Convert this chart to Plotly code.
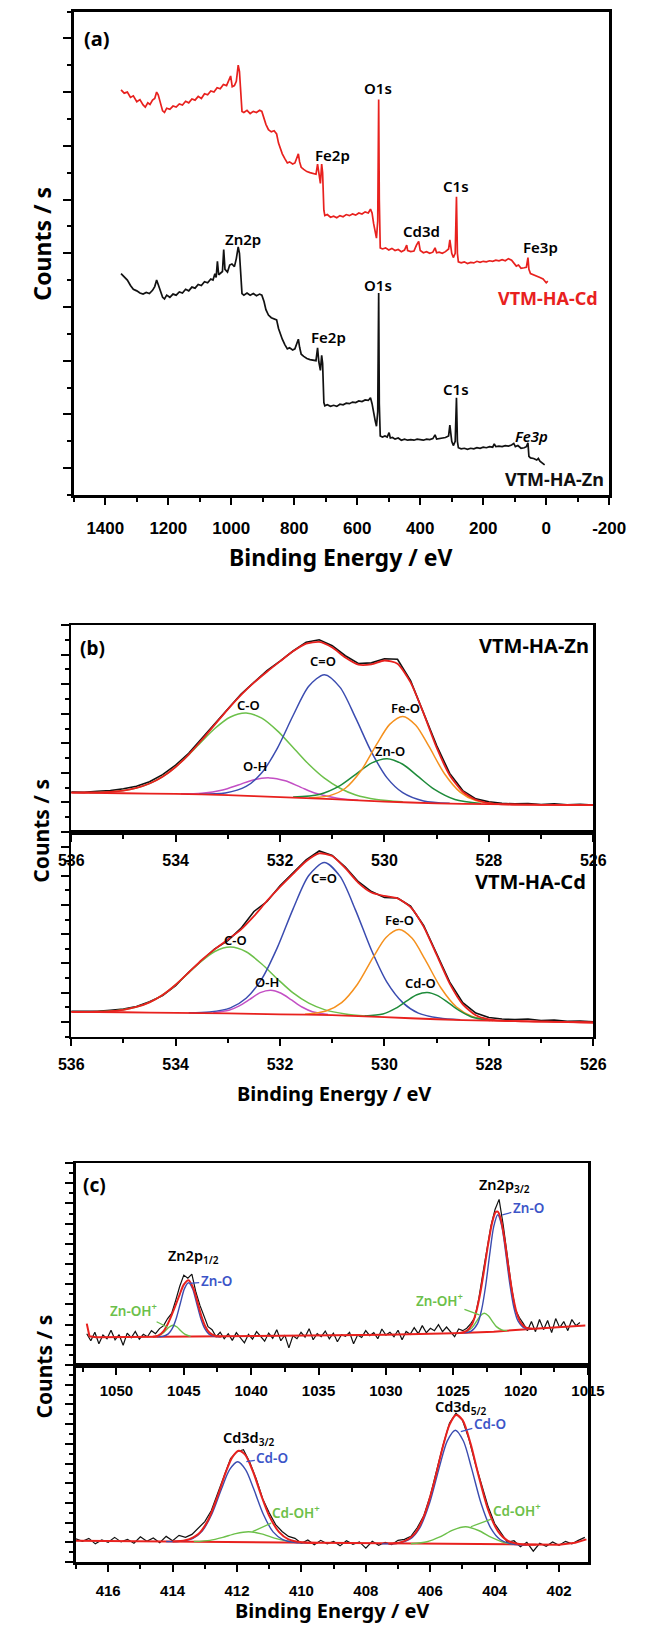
import plotly.graph_objects as go

# ======================= DATA =======================
# (a) survey spectra: (binding energy eV, counts a.u.)
cd_survey = [(1350,7.04),(1340,6.98),(1330,7.00),(1320,6.90),(1311,6.93),(1300,6.82),(1290,6.86),(1280,6.76),(1273,6.72),(1265,6.80),(1258,6.77),(1250,6.85),(1243,6.88),(1237,7.00),(1232,6.95),(1225,6.80),(1218,6.65),(1212,6.62),(1205,6.70),(1195,6.68),(1185,6.74),(1175,6.72),(1165,6.78),(1155,6.76),(1145,6.83),(1135,6.80),(1125,6.87),(1115,6.85),(1105,6.92),(1095,6.88),(1085,6.97),(1075,6.95),(1065,7.02),(1055,7.00),(1045,7.08),(1035,7.06),(1025,7.14),(1015,7.12),(1008,7.22),(1002,7.30),(997,7.10),(990,7.12),(984,7.20),(978,7.50),(974,7.38),(970,7.00),(966,6.64),(960,6.62),(950,6.66),(940,6.60),(930,6.64),(920,6.62),(910,6.66),(903,6.64),(896,6.50),(890,6.40),(882,6.30),(873,6.26),(864,6.28),(856,6.22),(850,6.05),(845,5.95),(838,5.85),(830,5.76),(822,5.68),(815,5.70),(805,5.66),(798,5.68),(791,5.80),(787,5.85),(783,5.70),(778,5.60),(770,5.56),(760,5.52),(750,5.50),(740,5.48),(731,5.47),(726,5.66),(722,5.45),(717,5.30),(713,5.66),(710,5.50),(706,4.80),(703,4.70),(695,4.72),(685,4.67),(675,4.69),(665,4.66),(655,4.70),(645,4.68),(635,4.72),(625,4.70),(615,4.73),(605,4.71),(595,4.75),(585,4.73),(575,4.77),(565,4.75),(558,4.82),(553,4.75),(548,4.55),(543,4.35),(539,4.28),(535,4.60),(532,6.86),(530,5.00),(527,4.10),(520,4.08),(510,4.10),(500,4.06),(490,4.09),(480,4.05),(470,4.07),(460,4.03),(450,4.06),(443,4.15),(440,4.05),(430,4.03),(420,4.04),(412,4.15),(405,4.22),(400,4.05),(390,4.01),(380,4.03),(370,4.00),(360,4.02),(353,4.10),(348,4.01),(340,4.02),(330,4.00),(320,4.03),(310,4.08),(306,4.25),(300,4.00),(295,3.92),(289,4.00),(285,5.05),(282,4.00),(279,3.84),(270,3.82),(260,3.84),(250,3.81),(240,3.83),(230,3.82),(220,3.85),(210,3.83),(200,3.85),(190,3.84),(180,3.86),(170,3.85),(160,3.87),(150,3.86),(140,3.88),(130,3.86),(120,3.90),(110,3.87),(103,3.82),(95,3.76),(88,3.78),(80,3.72),(70,3.73),(63,3.74),(58,3.92),(55,3.70),(50,3.62),(40,3.60),(30,3.58),(20,3.55),(10,3.52),(0,3.45),(-5,3.48)]

zn_survey = [(1350,3.62),(1340,3.55),(1330,3.50),(1320,3.40),(1311,3.33),(1300,3.30),(1290,3.26),(1280,3.24),(1270,3.27),(1260,3.25),(1250,3.31),(1243,3.38),(1237,3.50),(1232,3.42),(1225,3.28),(1218,3.18),(1212,3.15),(1205,3.22),(1195,3.18),(1185,3.24),(1175,3.22),(1165,3.28),(1155,3.26),(1145,3.33),(1135,3.30),(1125,3.37),(1115,3.35),(1105,3.42),(1095,3.40),(1085,3.47),(1075,3.45),(1065,3.52),(1058,3.50),(1052,3.62),(1048,3.55),(1044,3.85),(1040,3.60),(1035,3.62),(1028,3.66),(1024,4.07),(1020,3.70),(1012,3.65),(1005,3.78),(998,3.80),(990,3.75),(984,3.90),(978,4.12),(974,4.00),(970,3.60),(966,3.25),(960,3.22),(950,3.26),(940,3.22),(930,3.25),(920,3.21),(910,3.24),(903,3.22),(896,3.10),(890,2.95),(882,2.85),(873,2.80),(864,2.78),(856,2.76),(850,2.60),(845,2.50),(838,2.40),(830,2.30),(822,2.22),(815,2.24),(805,2.20),(798,2.22),(791,2.34),(787,2.40),(783,2.25),(778,2.12),(770,2.08),(760,2.04),(750,2.02),(740,2.01),(731,2.00),(726,2.24),(722,1.98),(717,1.82),(713,2.10),(710,1.95),(706,1.22),(703,1.16),(695,1.18),(685,1.15),(675,1.17),(665,1.15),(655,1.19),(645,1.18),(635,1.21),(625,1.20),(615,1.23),(605,1.22),(595,1.25),(585,1.24),(575,1.27),(565,1.26),(558,1.31),(553,1.20),(548,1.00),(543,0.88),(539,0.78),(535,1.05),(532,3.26),(530,1.20),(527,0.60),(520,0.58),(512,0.60),(505,0.58),(499,0.66),(495,0.56),(488,0.57),(480,0.54),(470,0.56),(460,0.52),(450,0.54),(440,0.52),(430,0.53),(420,0.52),(410,0.54),(400,0.53),(390,0.52),(380,0.54),(370,0.53),(360,0.55),(353,0.62),(348,0.54),(340,0.55),(330,0.55),(320,0.57),(310,0.60),(306,0.80),(300,0.50),(295,0.42),(289,0.50),(285,1.31),(282,0.50),(279,0.38),(270,0.36),(260,0.37),(250,0.35),(240,0.37),(230,0.36),(220,0.38),(210,0.37),(200,0.39),(190,0.38),(180,0.40),(170,0.39),(165,0.45),(160,0.40),(150,0.41),(140,0.40),(130,0.42),(120,0.41),(110,0.43),(103,0.46),(98,0.40),(90,0.42),(80,0.37),(70,0.38),(63,0.40),(58,0.47),(55,0.22),(50,0.19),(40,0.18),(30,0.15),(25,0.18),(20,0.13),(10,0.08),(5,0.06)]

survey_tickvals = [1400, 1200, 1000, 800, 600, 400, 200, 0, -200]
survey_ticktext = ["1400", "1200", "1000", "800", "600", "400", "200", "0", "-200"]

# (b) O1s spectra, evenly sampled from 536 eV in -0.25 eV steps
o1s_start, o1s_step = 536.0, -0.25
o1s_zn_raw = [1.35,1.34,1.38,1.40,1.46,1.55,1.70,1.94,2.26,2.66,3.16,3.66,4.18,4.66,5.06,5.46,5.78,6.12,6.42,6.50,6.30,5.96,5.70,5.72,5.86,5.84,5.12,4.05,2.92,1.98,1.40,1.12,1.02,0.97,0.95,0.96,0.93,0.95,0.92,0.94,0.91]
o1s_zn_fit = [1.33,1.335,1.34,1.36,1.40,1.49,1.64,1.87,2.20,2.62,3.11,3.63,4.15,4.63,5.05,5.42,5.77,6.11,6.37,6.43,6.24,5.90,5.66,5.67,5.80,5.69,5.06,4.01,2.85,1.92,1.36,1.09,0.98,0.935,0.93,0.925,0.92,0.917,0.915,0.912,0.91]
o1s_cd_raw = [0.36,0.37,0.36,0.40,0.44,0.53,0.69,0.90,1.24,1.70,2.10,2.50,2.78,3.20,3.78,4.12,4.66,5.12,5.55,5.85,5.70,5.30,4.80,4.46,4.26,4.24,3.96,3.30,2.33,1.36,0.66,0.30,0.15,0.10,0.08,0.10,0.05,0.06,0.02,0.03,0.00]
o1s_cd_fit = [0.34,0.34,0.35,0.37,0.415,0.51,0.67,0.92,1.27,1.69,2.12,2.49,2.82,3.16,3.62,4.14,4.62,5.07,5.50,5.77,5.68,5.26,4.76,4.43,4.31,4.23,3.93,3.26,2.29,1.31,0.60,0.23,0.085,0.04,0.025,0.018,0.01,0.003,-0.005,-0.013,-0.02]

zn_o1s_bg = [(536,1.33),(535,1.31),(534,1.29),(533,1.25),(532,1.18),(531,1.11),(530,1.03),(529,0.97),(528,0.94),(527,0.92),(526,0.91)]
zn_o1s_CO = [(535.65,1.33),(535.15,1.37),(534.75,1.49),(534.45,1.68),(534.15,1.99),(533.85,2.44),(533.55,2.97),(533.25,3.50),(532.95,3.89),(532.65,4.02),(532.35,3.85),(532.05,3.42),(531.75,2.86),(531.45,2.29),(531.15,1.82),(530.85,1.48),(530.55,1.25),(530.15,1.10),(529.65,1.02)]
zn_o1s_OH = [(533.9,1.29),(533.5,1.31),(533.1,1.42),(532.8,1.59),(532.5,1.77),(532.2,1.83),(531.9,1.73),(531.6,1.51),(531.3,1.30),(530.9,1.14),(530.5,1.075)]
zn_o1s_CdO = [(533.55,1.28),(533.05,1.32),(532.65,1.54),(532.35,2.00),(532.05,2.84),(531.75,3.94),(531.45,4.93),(531.15,5.32),(530.85,4.89),(530.55,3.85),(530.25,2.71),(529.95,1.83),(529.65,1.33),(529.25,1.05),(528.75,0.97)]
zn_o1s_ZnO = [(531.75,1.18),(531.25,1.27),(530.85,1.57),(530.55,1.95),(530.25,2.33),(529.95,2.48),(529.65,2.29),(529.35,1.87),(529.05,1.45),(528.65,1.10),(528.15,0.96)]
zn_o1s_FeO = [(531.45,1.15),(531.05,1.23),(530.75,1.48),(530.45,2.07),(530.15,2.96),(529.9,3.64),(529.65,3.91),(529.4,3.61),(529.15,2.90),(528.85,1.97),(528.55,1.35),(528.25,1.06),(527.85,0.95)]

cd_o1s_bg = [(536,0.34),(535,0.33),(534,0.31),(533,0.29),(532,0.26),(531,0.23),(530,0.16),(529,0.09),(528,0.04),(527,0.01),(526,-0.02)]
cd_o1s_CO = [(535.55,0.35),(535.15,0.38),(534.75,0.51),(534.45,0.71),(534.15,1.05),(533.85,1.51),(533.55,2.01),(533.25,2.41),(532.95,2.56),(532.65,2.40),(532.35,1.98),(532.05,1.47),(531.75,0.99),(531.45,0.64),(531.15,0.42),(530.75,0.27),(530.35,0.20)]
cd_o1s_OH = [(533.28,0.32),(532.98,0.40),(532.78,0.55),(532.58,0.77),(532.38,1.00),(532.18,1.085),(531.98,0.98),(531.78,0.75),(531.58,0.51),(531.38,0.35),(531.08,0.25)]
cd_o1s_CdO_dbl = [(533.75,0.31),(533.35,0.335),(532.95,0.48),(532.65,0.81),(532.35,1.47),(532.05,2.55),(531.75,3.87),(531.45,5.01),(531.15,5.455),(530.85,4.98),(530.55,3.81),(530.25,2.46),(529.95,1.35),(529.65,0.66),(529.35,0.30),(528.95,0.13),(528.55,0.07)]
cd_o1s_FeO = [(531.52,0.26),(531.12,0.37),(530.82,0.66),(530.52,1.28),(530.22,2.20),(529.97,2.89),(529.72,3.16),(529.47,2.86),(529.22,2.13),(528.92,1.17),(528.62,0.51),(528.32,0.19),(527.92,0.05)]
cd_o1s_CdO = [(530.38,0.20),(530.03,0.27),(529.78,0.47),(529.58,0.71),(529.38,0.93),(529.18,1.01),(528.98,0.90),(528.78,0.66),(528.58,0.40),(528.33,0.17),(527.98,0.05)]

# (c) Zn2p spectrum, evenly sampled from 1052.2 eV in -0.3 eV steps
zn2p_start, zn2p_step = 1052.2, -0.3
zn2p_raw = [1.55,1.20,1.62,1.05,1.48,1.30,1.72,1.25,1.50,0.98,
            1.58,1.35,1.66,1.28,1.52,1.40,1.70,1.55,1.80,1.95,
            2.30,2.55,3.20,3.90,4.45,4.30,4.50,3.60,2.95,2.40,
            1.90,1.75,1.40,1.62,1.30,1.55,1.22,1.60,1.35,1.10,
            1.52,1.28,1.65,1.40,1.18,1.58,1.32,1.75,1.20,1.48,
            0.85,1.45,1.30,1.62,1.38,1.80,1.25,1.55,1.40,1.68,
            1.30,1.58,1.15,1.50,1.42,1.62,1.05,1.48,1.36,1.70,
            1.45,1.60,1.30,1.78,1.48,1.62,1.40,1.72,1.25,1.66,
            1.52,1.85,1.55,1.95,1.60,1.82,1.70,2.00,1.65,1.88,
            1.62,1.40,1.78,1.70,1.82,2.05,2.35,3.30,4.55,5.70,
            6.90,7.70,8.20,6.95,5.40,3.95,2.75,2.35,2.05,1.70,
            2.15,1.65,2.25,1.75,2.20,1.60,2.30,1.85,2.15,1.70,
            2.25,1.95,2.10]
zn2p_bg = [(1052.2,2.05),(1052.0,1.42),(1051.5,1.37),(1045,1.40),(1040,1.42),(1030,1.50),(1025,1.57),(1022,1.65),(1019,1.80),(1015.2,1.95)]
zn2p_fit = [(1047.3,1.40),(1046.9,1.45),(1046.5,1.68),(1046.2,2.02),(1045.9,2.47),(1045.6,2.97),(1045.3,3.50),(1045.0,3.98),(1044.65,4.20),(1044.3,3.82),(1044.0,3.15),(1043.7,2.44),(1043.4,1.91),(1043.1,1.61),(1042.7,1.45),(1042.2,1.40),
            (None,None),
            (1024.5,1.59),(1024.0,1.69),(1023.6,2.03),(1023.3,2.62),(1023.0,3.55),(1022.7,4.75),(1022.4,6.03),(1022.1,7.09),(1021.85,7.57),(1021.7,7.59),(1021.5,7.29),(1021.2,6.23),(1020.9,4.81),(1020.6,3.51),(1020.3,2.60),(1020.0,2.10),(1019.6,1.85),(1019.1,1.80)]
zn2p_ZnO = [(1047.0,1.39),(1046.55,1.42),(1046.15,1.54),(1045.85,1.81),(1045.55,2.33),(1045.25,3.07),(1044.95,3.78),(1044.65,4.07),(1044.35,3.78),(1044.05,3.07),(1043.75,2.33),(1043.45,1.81),(1043.15,1.54),(1042.75,1.42),(1042.3,1.40),
            (None,None),
            (1024.2,1.59),(1023.7,1.66),(1023.2,2.05),(1022.9,2.73),(1022.6,3.91),(1022.3,5.46),(1022.0,6.85),(1021.7,7.44),(1021.4,6.88),(1021.1,5.51),(1020.8,3.99),(1020.5,2.83),(1020.2,2.18),(1019.7,1.82),(1019.2,1.79)]
zn2p_ZnOH = [(1047.1,1.41),(1046.7,1.51),(1046.4,1.67),(1046.1,1.87),(1045.8,1.97),(1045.5,1.88),(1045.2,1.68),(1044.9,1.52),(1044.5,1.42),
             (None,None),
             (1024.0,1.65),(1023.6,1.85),(1023.3,2.13),(1023.0,2.43),(1022.7,2.56),(1022.4,2.44),(1022.1,2.16),(1021.8,1.90),(1021.4,1.74),(1021.0,1.70)]

# (c) Cd3d spectrum, evenly sampled from 417.0 eV in -0.2 eV steps
cd3d_start, cd3d_step = 417.0, -0.2
cd3d_raw = [1.18,1.05,1.20,0.92,1.12,1.00,1.25,1.02,1.15,0.95,
            1.28,1.05,1.22,0.98,1.30,1.08,1.35,1.25,1.40,1.70,
            2.05,2.60,3.50,4.45,5.25,5.60,5.70,5.05,4.20,3.20,
            2.50,1.90,1.55,1.30,1.20,0.95,1.12,0.88,1.10,0.92,
            1.05,0.82,1.08,0.90,1.02,0.70,1.05,0.85,1.00,0.88,
            1.10,1.15,1.30,1.75,2.35,3.35,4.65,5.95,7.05,7.55,
            7.20,6.25,5.00,3.85,2.80,1.95,1.45,1.00,1.08,0.78,
            1.00,0.55,0.95,0.80,1.02,0.85,1.05,0.92,1.10,1.25]
cd3d_bg = [(417.0,1.08),(413.4,1.03),(410,0.97),(406.5,0.91),(403,0.86),(402,0.88),(401.5,0.98),(401.15,1.15)]
cd3d_fit = [(414.0,1.04),(413.6,1.10),(413.2,1.42),(412.9,2.12),(412.6,3.35),(412.35,4.55),(412.15,5.31),(411.95,5.65),(411.75,5.45),(411.5,4.57),(411.25,3.39),(411.0,2.34),(410.7,1.53),(410.4,1.15),(410.0,1.00),(409.5,0.97),
            (None,None),
            (407.3,0.93),(406.9,1.00),(406.5,1.40),(406.2,2.30),(405.9,3.91),(405.6,5.90),(405.4,6.97),(405.2,7.46),(405.0,7.21),(404.75,6.03),(404.5,4.39),(404.2,2.64),(403.9,1.57),(403.6,1.09),(403.2,0.90),(402.7,0.87)]
cd3d_CdO = [(414.2,1.04),(413.78,1.05),(413.38,1.19),(413.08,1.57),(412.78,2.44),(412.48,3.72),(412.23,4.69),(411.98,5.09),(411.73,4.68),(411.48,3.70),(411.18,2.41),(410.88,1.53),(410.58,1.14),(410.18,0.99),(409.8,0.97),
            (None,None),
            (407.5,0.92),(407.02,0.95),(406.62,1.17),(406.32,1.75),(406.02,2.99),(405.72,4.79),(405.47,6.15),(405.22,6.69),(404.97,6.14),(404.72,4.78),(404.42,2.97),(404.12,1.72),(403.82,1.13),(403.42,0.90),(403.0,0.86)]
cd3d_CdOH = [(413.34,1.04),(412.84,1.10),(412.44,1.25),(412.04,1.44),(411.64,1.535),(411.24,1.43),(410.84,1.21),(410.44,1.06),(409.94,0.98),
             (None,None),
             (406.6,0.93),(406.1,1.03),(405.7,1.27),(405.3,1.62),(404.9,1.79),(404.5,1.60),(404.1,1.25),(403.7,0.99),(403.2,0.88)]

# ======================= STYLE =======================
RED = "#e8211e"; BLK = "#111111"; BLUE = "#3b4cb0"; GREEN = "#6cc04a"
DKGREEN = "#1e8b3a"; ORANGE = "#f5911e"; MAGENTA = "#c34fc4"; LBLUE = "#3c55c8"
TFONT = "Noto Sans, Open Sans, sans-serif"
NFONT = "Arial, Liberation Sans, sans-serif"

W, H = 658, 1628
def px_x(a, b): return [a / W, b / W]
def px_y(top, bot): return [1 - bot / H, 1 - top / H]

fig = go.Figure()

def xs(pairs): return [p[0] for p in pairs]
def ys(pairs): return [p[1] for p in pairs]

def line(pairs, xa, ya, color, width, shape="spline"):
    fig.add_trace(go.Scatter(x=xs(pairs), y=ys(pairs), xaxis=xa, yaxis=ya, mode="lines",
                             line=dict(color=color, width=width, shape=shape, smoothing=0.8),
                             connectgaps=False, showlegend=False, hoverinfo="skip"))

def even(yv, x0, dx, xa, ya, color, width, shape="linear"):
    fig.add_trace(go.Scatter(y=yv, x0=x0, dx=dx, xaxis=xa, yaxis=ya, mode="lines",
                             line=dict(color=color, width=width, shape=shape, smoothing=0.6),
                             showlegend=False, hoverinfo="skip"))

# (a)
line(cd_survey, "x", "y", RED, 1.7, "linear")
line(zn_survey, "x", "y", BLK, 1.7, "linear")

# (b) top - Zn
even(o1s_zn_raw, o1s_start, o1s_step, "x2", "y2", BLK, 1.6)
line(zn_o1s_CO, "x2", "y2", GREEN, 1.5)
line(zn_o1s_OH, "x2", "y2", MAGENTA, 1.5)
line(zn_o1s_CdO, "x2", "y2", BLUE, 1.5)
line(zn_o1s_ZnO, "x2", "y2", DKGREEN, 1.5)
line(zn_o1s_FeO, "x2", "y2", ORANGE, 1.5)
line(zn_o1s_bg, "x2", "y2", RED, 1.8)
even(o1s_zn_fit, o1s_start, o1s_step, "x2", "y2", RED, 1.8, "spline")
# (b) bottom - Cd
even(o1s_cd_raw, o1s_start, o1s_step, "x3", "y3", BLK, 1.6)
line(cd_o1s_CO, "x3", "y3", GREEN, 1.5)
line(cd_o1s_OH, "x3", "y3", MAGENTA, 1.5)
line(cd_o1s_CdO_dbl, "x3", "y3", BLUE, 1.5)
line(cd_o1s_FeO, "x3", "y3", ORANGE, 1.5)
line(cd_o1s_CdO, "x3", "y3", DKGREEN, 1.5)
line(cd_o1s_bg, "x3", "y3", RED, 1.8)
even(o1s_cd_fit, o1s_start, o1s_step, "x3", "y3", RED, 1.8, "spline")

# (c) top - Zn2p
even(zn2p_raw, zn2p_start, zn2p_step, "x4", "y4", BLK, 1.2)
line(zn2p_bg, "x4", "y4", RED, 2.0, "linear")
line(zn2p_ZnOH, "x4", "y4", GREEN, 1.4)
line(zn2p_ZnO, "x4", "y4", BLUE, 1.4)
line(zn2p_fit, "x4", "y4", RED, 2.0)
# (c) bottom - Cd3d
even(cd3d_raw, cd3d_start, cd3d_step, "x5", "y5", BLK, 1.2)
line(cd3d_bg, "x5", "y5", RED, 2.0, "linear")
line(cd3d_CdOH, "x5", "y5", GREEN, 1.4)
line(cd3d_CdO, "x5", "y5", BLUE, 1.4)
line(cd3d_fit, "x5", "y5", RED, 2.0)

# ======================= AXES =======================
def xaxis(domain, rng, anchor, size, dtick=None, minor=None, standoff=6, **kw):
    d = dict(domain=domain, range=rng, anchor=anchor, showline=True, linecolor="black", linewidth=2.5,
             mirror=True, ticks="outside", ticklen=7, tickwidth=2, tickcolor="black",
             showgrid=False, zeroline=False, ticklabelstandoff=standoff,
             tickfont=dict(family=NFONT, size=size, color="black", weight="bold"))
    if dtick is not None:
        d.update(dtick=dtick, tick0=0)
    if minor is not None:
        d["minor"] = dict(tickmode="linear", tick0=0, dtick=minor, ticks="outside", ticklen=4,
                          tickwidth=2, tickcolor="black", showgrid=False)
    d.update(kw)
    return d

def yaxis(domain, rng, anchor, dtick, minor):
    return dict(domain=domain, range=rng, anchor=anchor, showline=True, linecolor="black", linewidth=2.5,
                mirror=True, ticks="outside", ticklen=8, tickwidth=2, tickcolor="black",
                dtick=dtick, tick0=0, showticklabels=False, showgrid=False, zeroline=False,
                minor=dict(dtick=minor, tick0=0, ticks="outside", ticklen=4, tickwidth=2,
                           tickcolor="black", showgrid=False))

xa_a = xaxis(px_x(63.7, 624.7), [1500, -200], "y", 17, minor=100, standoff=9,
             tickmode="array", tickvals=survey_tickvals, ticktext=survey_ticktext)
ya_a = yaxis(px_y(11.5, 495), [-0.5, 8.5], "x", 1, 0.5)
xa_b1 = xaxis(px_x(61, 608), [536, 526], "y2", 16, dtick=2, minor=1, standoff=5)
ya_b1 = yaxis(px_y(625, 832), [0, 7], "x2", 1, 0.5)
xa_b2 = xaxis(px_x(61, 608), [536, 526], "y3", 16, dtick=2, minor=1, standoff=5)
ya_b2 = yaxis(px_y(832, 1036.5), [-0.5, 6.5], "x3", 1, 0.5)
xa_c1 = xaxis(px_x(66, 602.5), [1053, 1015], "y4", 15, dtick=5, minor=2.5, standoff=3)
ya_c1 = yaxis(px_y(1163, 1365), [0, 10], "x4", 1, 0.5)
xa_c2 = xaxis(px_x(66, 602.5), [417, 401.1], "y5", 15, dtick=2, minor=1, standoff=6)
ya_c2 = yaxis(px_y(1365, 1562), [0, 10], "x5", 1, 0.5)

# ======================= ANNOTATIONS =======================
ann = []
def txt(text, x, y, xr, yr, size=15, color="black", weight=600, xanchor="center", family=TFONT):
    ann.append(dict(text=text, x=x, y=y, xref=xr, yref=yr, showarrow=False, xanchor=xanchor,
                    yanchor="middle", font=dict(family=family, size=size, color=color, weight=weight)))

def lead(text, x, y, xr, yr, ax, ay, color, size=13.5):
    ann.append(dict(text=text, x=x, y=y, xref=xr, yref=yr, showarrow=True, arrowhead=0,
                    arrowwidth=1.3, arrowcolor=color, ax=ax, ay=ay, standoff=0, startstandoff=0,
                    font=dict(family=TFONT, size=size, color=color, weight=600)))

def paper(text, x, y, size, angle=0):
    ann.append(dict(text=text, x=x / W, y=1 - y / H, xref="paper", yref="paper", showarrow=False,
                    textangle=angle, xanchor="center", yanchor="middle",
                    font=dict(family=TFONT, size=size, color="black", weight="bold")))

# (a)
txt("(a)", 1426, 8.0, "x", "y", 20, weight="bold")
txt("O1s", 533, 7.07, "x", "y")
txt("Fe2p", 680, 5.83, "x", "y")
txt("C1s", 286, 5.25, "x", "y")
txt("Cd3d", 397, 4.42, "x", "y")
txt("Fe3p", 19, 4.12, "x", "y")
txt("VTM-HA-Cd", -7, 3.16, "x", "y", 18, RED, "bold")
txt("Zn2p", 962, 4.27, "x", "y")
txt("O1s", 533, 3.40, "x", "y")
txt("Fe2p", 692, 2.44, "x", "y")
txt("C1s", 286, 1.48, "x", "y")
txt("<i>Fe3p</i>", 48, 0.60, "x", "y")
txt("VTM-HA-Zn", -25, -0.2, "x", "y", 18, BLK, "bold")
# (b)
txt("(b)", 535.6, 6.22, "x2", "y2", 19, weight="bold")
txt("VTM-HA-Zn", 526.05, 6.32, "x2", "y2", 20, weight="bold", xanchor="right")
txt("C=O", 531.17, 5.78, "x2", "y2", 13)
txt("C-O", 532.61, 4.29, "x2", "y2", 13)
txt("Fe-O", 529.6, 4.21, "x2", "y2", 13)
txt("Zn-O", 529.9, 2.75, "x2", "y2", 13)
txt("O-H", 532.48, 2.23, "x2", "y2", 13)
txt("VTM-HA-Cd", 526.1, 4.8, "x3", "y3", 20, weight="bold", xanchor="right")
txt("C=O", 531.15, 4.94, "x3", "y3", 13)
txt("Fe-O", 529.72, 3.48, "x3", "y3", 13)
txt("C-O", 532.86, 2.79, "x3", "y3", 13)
txt("O-H", 532.25, 1.38, "x3", "y3", 13)
txt("Cd-O", 529.3, 1.34, "x3", "y3", 13)
# (c)
txt("(c)", 1051.65, 8.91, "x4", "y4", 19, weight="bold")
txt("Zn2p<sub>3/2</sub>", 1021.18, 8.92, "x4", "y4", 14.5)
txt("Zn2p<sub>1/2</sub>", 1044.3, 5.38, "x4", "y4", 14.5)
lead("Zn-O", 1021.36, 7.43, "x4", "y4", 26, -7, LBLUE)
lead("Zn-OH<sup>+</sup>", 1023.06, 2.48, "x4", "y4", -40, -15, GREEN)
lead("Zn-O", 1044.6, 4.04, "x4", "y4", 27, -2, LBLUE)
lead("Zn-OH<sup>+</sup>", 1046.2, 1.87, "x4", "y4", -34, -17, GREEN)
txt("Cd3d<sub>5/2</sub>", 405.05, 7.85, "x5", "y5", 14.5)
txt("Cd3d<sub>3/2</sub>", 411.64, 6.3, "x5", "y5", 14.5)
lead("Cd-O", 405.05, 6.62, "x5", "y5", 29, -8, LBLUE)
lead("Cd-OH<sup>+</sup>", 404.74, 1.79, "x5", "y5", 46, -17, GREEN)
lead("Cd-O", 411.71, 5.09, "x5", "y5", 26, -4, LBLUE)
lead("Cd-OH<sup>+</sup>", 411.52, 1.54, "x5", "y5", 44, -20, GREEN)
# axis titles
paper("Binding Energy / eV", 344, 557, 23)
paper("Binding Energy / eV", 336, 1093, 20)
paper("Binding Energy / eV", 334, 1610, 20)
paper("Counts / s", 30, 244, 23, -90)
paper("Counts / s", 29, 831, 21, -90)
paper("Counts / s", 32, 1367, 21, -90)

fig.update_layout(width=W, height=H, margin=dict(l=0, r=0, t=0, b=0),
                  paper_bgcolor="white", plot_bgcolor="white", showlegend=False,
                  xaxis=xa_a, yaxis=ya_a, xaxis2=xa_b1, yaxis2=ya_b1, xaxis3=xa_b2, yaxis3=ya_b2,
                  xaxis4=xa_c1, yaxis4=ya_c1, xaxis5=xa_c2, yaxis5=ya_c2, annotations=ann)

fig.write_html("out.html", config={"displayModeBar": False, "staticPlot": True},
               post_script="document.body.style.margin='0';document.body.style.padding='0';")
